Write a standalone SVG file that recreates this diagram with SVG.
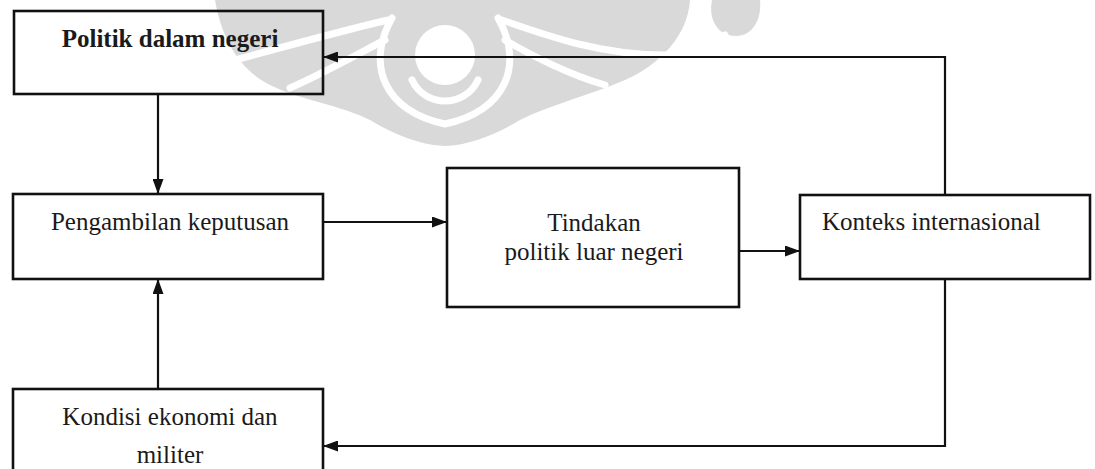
<svg xmlns="http://www.w3.org/2000/svg" width="1095" height="469" viewBox="0 0 1095 469">
<defs>
<style>
.box{fill:none;stroke:#111;stroke-width:2.6}
.lbl{font-family:"Liberation Serif","Times New Roman",serif;font-size:25px;fill:#1a1a1a}
.edge{fill:none;stroke:#111;stroke-width:2.2}
.wm{fill:#d9d9d9}
.wmw{fill:none;stroke:#fff;stroke-width:7;stroke-linecap:round}
</style>
<marker id="ah" viewBox="0 0 15 11" refX="15" refY="5.5" markerWidth="15" markerHeight="11" markerUnits="userSpaceOnUse" orient="auto">
<path d="M0,0 L15,5.5 L0,11 Z" fill="#111"/>
</marker>
</defs>
<rect width="1095" height="469" fill="#fff"/>
<g id="watermark">
<path class="wm" d="M215 0 L690 0 C688 35 660 65 625 80 C590 95 550 105 520 120 C495 135 470 145 445 146 C420 145 395 135 370 120 C340 105 300 100 270 85 C240 70 222 40 215 0 Z"/>
<path class="wm" d="M712 0 L760 0 C762 20 752 36 736 36 C718 36 708 20 712 0 Z"/>
<circle cx="445" cy="55" r="30" fill="#fff"/>
<path class="wmw" d="M392 18 C365 65 385 112 445 124 C505 112 525 65 498 18"/>
<path class="wmw" d="M412 80 C425 108 465 108 478 80"/>
<path class="wmw" d="M235 60 C290 45 345 30 388 20"/>
<path class="wmw" d="M502 20 C545 35 600 55 665 55 C690 52 710 45 725 35"/>
<path class="wmw" d="M290 88 C330 70 365 50 385 40"/>
<path class="wmw" d="M505 40 C530 55 570 75 605 85"/>
</g>
<g id="connectors">
<line class="edge" x1="158" y1="94" x2="158" y2="194" marker-end="url(#ah)"/>
<line class="edge" x1="158" y1="389" x2="158" y2="279" marker-end="url(#ah)"/>
<line class="edge" x1="323" y1="222" x2="447" y2="222" marker-end="url(#ah)"/>
<line class="edge" x1="739" y1="251" x2="800" y2="251" marker-end="url(#ah)"/>
<path class="edge" d="M945 195 V57 H323" marker-end="url(#ah)"/>
<path class="edge" d="M945 279 V446 H323" marker-end="url(#ah)"/>
</g>
<g id="politik-dalam-negeri">
<rect class="box" x="14" y="11" width="309" height="83"/>
<text class="lbl" x="170" y="47" text-anchor="middle" font-weight="bold" font-size="22.5">Politik dalam negeri</text>
</g>
<g id="pengambilan-keputusan">
<rect class="box" x="13" y="194" width="310" height="85"/>
<text class="lbl" x="170" y="230" text-anchor="middle">Pengambilan keputusan</text>
</g>
<g id="tindakan">
<rect class="box" x="447" y="168" width="292" height="139"/>
<text class="lbl" x="594" y="231" text-anchor="middle">Tindakan</text>
<text class="lbl" x="594" y="260" text-anchor="middle">politik luar negeri</text>
</g>
<g id="konteks-internasional">
<rect class="box" x="800" y="195" width="290" height="84"/>
<text class="lbl" x="822" y="230">Konteks internasional</text>
</g>
<g id="kondisi-ekonomi">
<rect class="box" x="13" y="389" width="310" height="90"/>
<text class="lbl" x="170" y="425" text-anchor="middle">Kondisi ekonomi dan</text>
<text class="lbl" x="170" y="463" text-anchor="middle">militer</text>
</g>
</svg>
